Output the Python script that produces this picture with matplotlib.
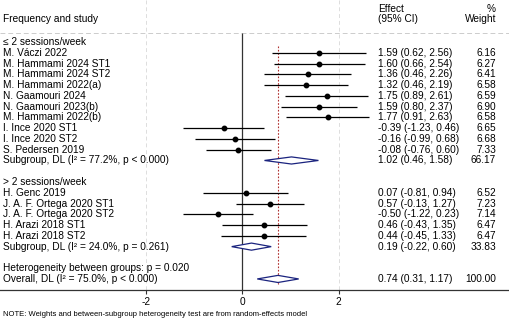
import matplotlib
matplotlib.use("Agg")
import matplotlib.pyplot as plt
from matplotlib.patches import Polygon

plt.rcParams['font.family'] = ['Liberation Sans', 'DejaVu Sans']

# ---- data ----
group1_labels = ["M. Váczi 2022", "M. Hammami 2024 ST1", "M. Hammami 2024 ST2",
                 "M. Hammami 2022(a)", "N. Gaamouri 2024", "N. Gaamouri 2023(b)",
                 "M. Hammami 2022(b)", "I. Ince 2020 ST1", "I. Ince 2020 ST2",
                 "S. Pedersen 2019"]
group1_es = [1.59, 1.60, 1.36, 1.32, 1.75, 1.59, 1.77, -0.39, -0.16, -0.08]
group1_lo = [0.62, 0.66, 0.46, 0.46, 0.89, 0.80, 0.91, -1.23, -0.99, -0.76]
group1_hi = [2.56, 2.54, 2.26, 2.19, 2.61, 2.37, 2.63, 0.46, 0.68, 0.60]
group1_w = [6.16, 6.27, 6.41, 6.58, 6.59, 6.90, 6.58, 6.65, 6.68, 7.33]
group1_sub = (1.02, 0.46, 1.58, 66.17)
group1_sub_label = "Subgroup, DL (I² = 77.2%, p < 0.000)"

group2_labels = ["H. Genc 2019", "J. A. F. Ortega 2020 ST1", "J. A. F. Ortega 2020 ST2",
                 "H. Arazi 2018 ST1", "H. Arazi 2018 ST2"]
group2_es = [0.07, 0.57, -0.50, 0.46, 0.44]
group2_lo = [-0.81, -0.13, -1.22, -0.43, -0.45]
group2_hi = [0.94, 1.27, 0.23, 1.35, 1.33]
group2_w = [6.52, 7.23, 7.14, 6.47, 6.47]
group2_sub = (0.19, -0.22, 0.60, 33.83)
group2_sub_label = "Subgroup, DL (I² = 24.0%, p = 0.261)"

overall = (0.74, 0.31, 1.17, 100.00)
overall_label = "Overall, DL (I² = 75.0%, p < 0.000)"
het_label = "Heterogeneity between groups: p = 0.020"
group_titles = ["≤ 2 sessions/week", "> 2 sessions/week"]
xticks = [-2, 0, 2]
note = "NOTE: Weights and between-subgroup heterogeneity test are from random-effects model"

# ---- layout ----
W, H = 509, 321
fig = plt.figure(figsize=(W / 100, H / 100), dpi=100)
ax = fig.add_axes([0, 0, 1, 1])
px_per_unit = 48.2
x0_px = 242.3
row0_px = 42.0
row_px = 10.77
ax.set_xlim(-x0_px / px_per_unit, (W - x0_px) / px_per_unit)
ax.set_ylim((H - row0_px) / row_px, -row0_px / row_px)

def prow(p):
    return (p - row0_px) / row_px

def pxx(p):
    return (p - x0_px) / px_per_unit

fs = 7.3
x_label = pxx(3)
x_eff = pxx(378)
x_wt = pxx(496)
axis_row = prow(290)
navy = "#1a237e"

# rows
rows = {}
r = 0
rows['g1title'] = r; r += 1
g1_rows = list(range(r, r + len(group1_labels))); r += len(group1_labels)
rows['g1sub'] = r; r += 2
rows['g2title'] = r; r += 1
g2_rows = list(range(r, r + len(group2_labels))); r += len(group2_labels)
rows['g2sub'] = r; r += 2
rows['het'] = r; r += 1
rows['overall'] = r

# grid lines
ax.vlines([-2, 2], prow(0), axis_row, colors="#dddddd", linestyles=(0, (4, 3)), lw=0.7)
ax.hlines(prow(33), ax.get_xlim()[0], ax.get_xlim()[1], colors="#cccccc",
          linestyles=(0, (5, 3)), lw=0.7)
# null line
ax.vlines(0, prow(33), axis_row, colors="#333333", lw=0.9)
# overall line
ax.vlines(overall[0], prow(46), prow(284), colors="#b03030", linestyles=(0, (1.5, 1.5)), lw=0.8)

def fmt(es, lo, hi):
    return f"{es:.2f} ({lo:.2f}, {hi:.2f})"

def study(rowi, lab, es, lo, hi, w):
    ax.text(x_label, rowi, lab, fontsize=fs, va='center', ha='left')
    ax.plot([lo, hi], [rowi, rowi], color='black', lw=0.9, solid_capstyle='butt')
    ax.plot([es], [rowi], 'o', color='black', ms=3.2)
    ax.text(x_eff, rowi, fmt(es, lo, hi), fontsize=fs, va='center', ha='left')
    ax.text(x_wt, rowi, f"{w:.2f}", fontsize=fs, va='center', ha='right')

def diamond(rowi, lab, vals):
    es, lo, hi, w = vals
    h = 0.33
    poly = Polygon([[lo, rowi], [es, rowi - h], [hi, rowi], [es, rowi + h]],
                   closed=True, facecolor='white', edgecolor=navy, lw=0.9, zorder=3)
    ax.add_patch(poly)
    ax.text(x_label, rowi, lab, fontsize=fs, va='center', ha='left')
    ax.text(x_eff, rowi, fmt(es, lo, hi), fontsize=fs, va='center', ha='left')
    ax.text(x_wt, rowi, f"{w:.2f}", fontsize=fs, va='center', ha='right')

# headers
ax.text(x_label, prow(19), "Frequency and study", fontsize=fs, va='center', ha='left')
ax.text(x_eff, prow(9), "Effect", fontsize=fs, va='center', ha='left')
ax.text(x_eff, prow(19.5), "(95% CI)", fontsize=fs, va='center', ha='left')
ax.text(x_wt, prow(9), "%", fontsize=fs, va='center', ha='right')
ax.text(x_wt, prow(19.5), "Weight", fontsize=fs, va='center', ha='right')

ax.text(x_label, rows['g1title'], group_titles[0], fontsize=fs, va='center', ha='left')
for ri, lab, es, lo, hi, w in zip(g1_rows, group1_labels, group1_es, group1_lo, group1_hi, group1_w):
    study(ri, lab, es, lo, hi, w)
diamond(rows['g1sub'], group1_sub_label, group1_sub)

ax.text(x_label, rows['g2title'], group_titles[1], fontsize=fs, va='center', ha='left')
for ri, lab, es, lo, hi, w in zip(g2_rows, group2_labels, group2_es, group2_lo, group2_hi, group2_w):
    study(ri, lab, es, lo, hi, w)
diamond(rows['g2sub'], group2_sub_label, group2_sub)

ax.text(x_label, rows['het'], het_label, fontsize=fs, va='center', ha='left')
diamond(rows['overall'], overall_label, overall)

# axis
for s in ['top', 'left', 'right']:
    ax.spines[s].set_visible(False)
ax.spines['bottom'].set_position(('data', axis_row))
ax.spines['bottom'].set_linewidth(0.9)
ax.spines['bottom'].set_color('#333333')
ax.set_yticks([])
ax.set_xticks(xticks)
ax.set_xticklabels([str(t) for t in xticks])
ax.tick_params(axis='x', direction='out', length=3, width=0.8, labelsize=fs, pad=2, colors='#333333')
ax.tick_params(axis='x', labelcolor='black')

ax.text(x_label, prow(315), note, fontsize=5.5, va='center', ha='left')

fig.savefig("out.png", dpi=100)
